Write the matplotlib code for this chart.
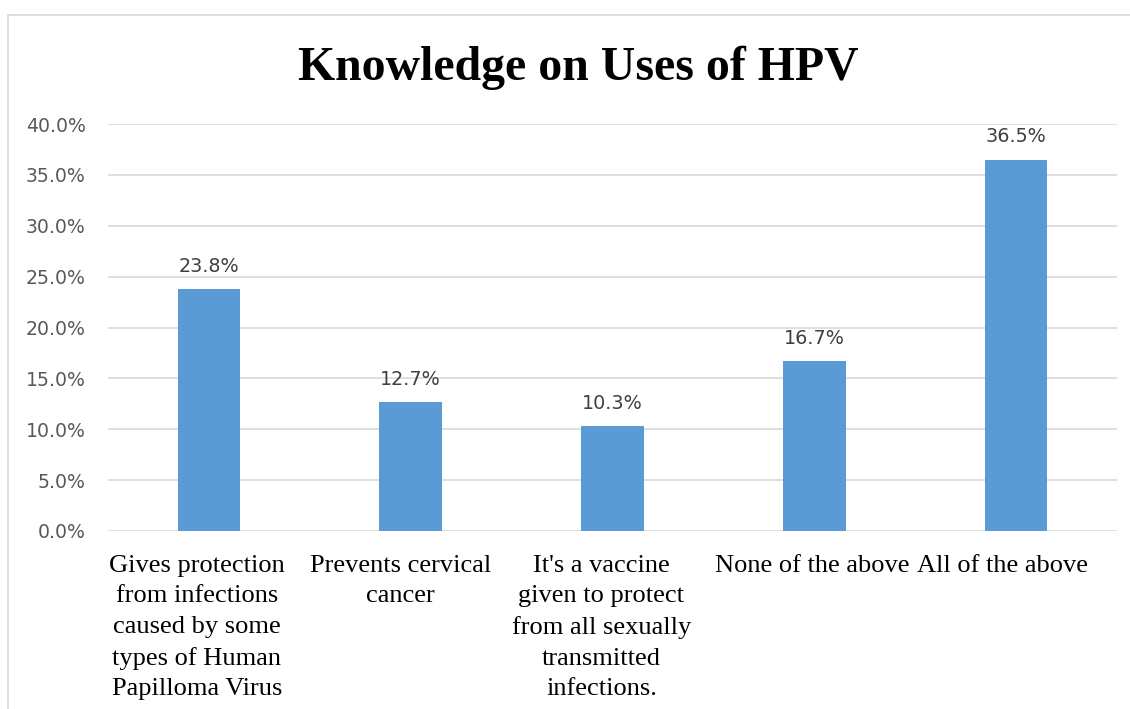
import matplotlib.pyplot as plt
import matplotlib.transforms as mtransforms
from matplotlib.ticker import FuncFormatter
from matplotlib.patches import Rectangle

categories = ['Gives protection\nfrom infections\ncaused by some\ntypes of Human\nPapilloma Virus',
              'Prevents cervical\ncancer',
              "It's a vaccine\ngiven to protect\nfrom all sexually\ntransmitted\ninfections.",
              'None of the above',
              'All of the above']
values = [23.8, 12.7, 10.3, 16.7, 36.5]
yticks = [0, 5, 10, 15, 20, 25, 30, 35, 40]

fig = plt.figure(figsize=(11.3, 7.09), dpi=100)
ax = fig.add_axes([108/1130, 1 - 531/709, (1117-108)/1130, (531-124)/709])

# chart frame (only top and left visible in the reference)
fig.patches.append(Rectangle((8/1130, -0.1), 1.2, 1 - 15/709 + 0.1, transform=fig.transFigure,
                             fill=False, edgecolor='#d9d9d9', linewidth=1.2))

x = range(len(values))
bars = ax.bar(x, values, width=0.31, color='#5b9bd5', zorder=3)
for b, v in zip(bars, values):
    ax.text(b.get_x() + b.get_width()/2, v + 1.3, '%.1f%%' % v, ha='center', va='bottom',
            fontsize=13.8, color='#404040')

ax.set_xlim(-0.5, len(values) - 0.5)
ax.set_ylim(0, 40)
ax.set_yticks(yticks)
ax.yaxis.set_major_formatter(FuncFormatter(lambda v, p: '%.1f%%' % v))
ax.tick_params(axis='y', length=0, labelsize=13.6, labelcolor='#595959', pad=16)
ax.grid(axis='y', color='#d9d9d9', linewidth=1.2, zorder=0)
for s in ax.spines.values():
    s.set_visible(False)

ax.set_xticks(list(x))
ax.set_xticklabels(categories, fontsize=19, family='Liberation Serif', va='top', linespacing=1.5)
ax.tick_params(axis='x', length=0, pad=17)
# excel nudges the wrapped labels a little to the left
shifts = [-12, -10, -11, -2, -14]
for lab, dx in zip(ax.get_xticklabels(), shifts):
    lab.set_transform(lab.get_transform() + mtransforms.ScaledTranslation(dx/100, 0, fig.dpi_scale_trans))

fig.text(578/1130, 1 - 68/709, 'Knowledge on Uses of HPV', ha='center', va='center',
         fontsize=34.4, fontweight='bold', family='Liberation Serif')

plt.savefig('out.png', dpi=100)
